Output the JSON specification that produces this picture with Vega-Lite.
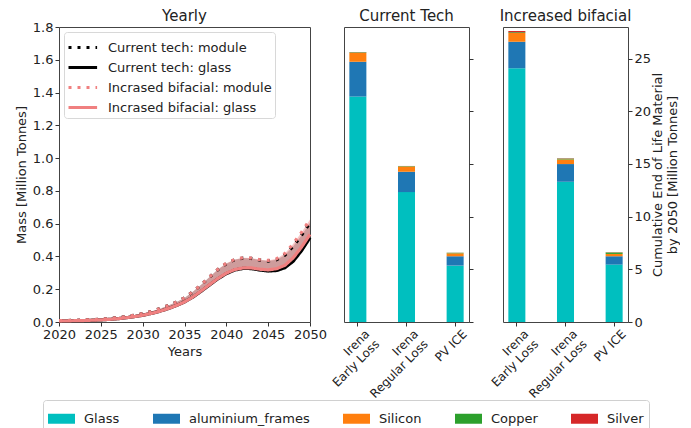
{
  "$schema": "https://vega.github.io/schema/vega-lite/v6.json",
  "background": "white",
  "padding": {"left": 14, "top": 8, "right": 0, "bottom": 0},
  "datasets": {
    "yearly": [
      {"year": 2020, "Current tech: module": 0.008, "Current tech: glass": 0.006, "Incrased bifacial: module": 0.008, "Incrased bifacial: glass": 0.006},
      {"year": 2021, "Current tech: module": 0.009, "Current tech: glass": 0.007, "Incrased bifacial: module": 0.009, "Incrased bifacial: glass": 0.007},
      {"year": 2022, "Current tech: module": 0.010, "Current tech: glass": 0.008, "Incrased bifacial: module": 0.010, "Incrased bifacial: glass": 0.008},
      {"year": 2023, "Current tech: module": 0.012, "Current tech: glass": 0.009, "Incrased bifacial: module": 0.012, "Incrased bifacial: glass": 0.009},
      {"year": 2024, "Current tech: module": 0.014, "Current tech: glass": 0.011, "Incrased bifacial: module": 0.014, "Incrased bifacial: glass": 0.011},
      {"year": 2025, "Current tech: module": 0.017, "Current tech: glass": 0.013, "Incrased bifacial: module": 0.017, "Incrased bifacial: glass": 0.013},
      {"year": 2026, "Current tech: module": 0.021, "Current tech: glass": 0.016, "Incrased bifacial: module": 0.021, "Incrased bifacial: glass": 0.016},
      {"year": 2027, "Current tech: module": 0.026, "Current tech: glass": 0.020, "Incrased bifacial: module": 0.026, "Incrased bifacial: glass": 0.020},
      {"year": 2028, "Current tech: module": 0.033, "Current tech: glass": 0.026, "Incrased bifacial: module": 0.033, "Incrased bifacial: glass": 0.026},
      {"year": 2029, "Current tech: module": 0.041, "Current tech: glass": 0.033, "Incrased bifacial: module": 0.041, "Incrased bifacial: glass": 0.033},
      {"year": 2030, "Current tech: module": 0.051, "Current tech: glass": 0.041, "Incrased bifacial: module": 0.051, "Incrased bifacial: glass": 0.041},
      {"year": 2031, "Current tech: module": 0.064, "Current tech: glass": 0.052, "Incrased bifacial: module": 0.064, "Incrased bifacial: glass": 0.052},
      {"year": 2032, "Current tech: module": 0.080, "Current tech: glass": 0.065, "Incrased bifacial: module": 0.080, "Incrased bifacial: glass": 0.065},
      {"year": 2033, "Current tech: module": 0.099, "Current tech: glass": 0.081, "Incrased bifacial: module": 0.099, "Incrased bifacial: glass": 0.081},
      {"year": 2034, "Current tech: module": 0.121, "Current tech: glass": 0.100, "Incrased bifacial: module": 0.121, "Incrased bifacial: glass": 0.100},
      {"year": 2035, "Current tech: module": 0.147, "Current tech: glass": 0.122, "Incrased bifacial: module": 0.147, "Incrased bifacial: glass": 0.122},
      {"year": 2036, "Current tech: module": 0.184, "Current tech: glass": 0.152, "Incrased bifacial: module": 0.185, "Incrased bifacial: glass": 0.153},
      {"year": 2037, "Current tech: module": 0.227, "Current tech: glass": 0.188, "Incrased bifacial: module": 0.228, "Incrased bifacial: glass": 0.190},
      {"year": 2038, "Current tech: module": 0.274, "Current tech: glass": 0.226, "Incrased bifacial: module": 0.275, "Incrased bifacial: glass": 0.228},
      {"year": 2039, "Current tech: module": 0.320, "Current tech: glass": 0.264, "Incrased bifacial: module": 0.322, "Incrased bifacial: glass": 0.266},
      {"year": 2040, "Current tech: module": 0.356, "Current tech: glass": 0.295, "Incrased bifacial: module": 0.359, "Incrased bifacial: glass": 0.298},
      {"year": 2041, "Current tech: module": 0.380, "Current tech: glass": 0.317, "Incrased bifacial: module": 0.382, "Incrased bifacial: glass": 0.320},
      {"year": 2042, "Current tech: module": 0.390, "Current tech: glass": 0.327, "Incrased bifacial: module": 0.392, "Incrased bifacial: glass": 0.330},
      {"year": 2043, "Current tech: module": 0.388, "Current tech: glass": 0.326, "Incrased bifacial: module": 0.390, "Incrased bifacial: glass": 0.330},
      {"year": 2044, "Current tech: module": 0.378, "Current tech: glass": 0.317, "Incrased bifacial: module": 0.380, "Incrased bifacial: glass": 0.322},
      {"year": 2045, "Current tech: module": 0.372, "Current tech: glass": 0.311, "Incrased bifacial: module": 0.376, "Incrased bifacial: glass": 0.318},
      {"year": 2046, "Current tech: module": 0.380, "Current tech: glass": 0.314, "Incrased bifacial: module": 0.386, "Incrased bifacial: glass": 0.325},
      {"year": 2047, "Current tech: module": 0.408, "Current tech: glass": 0.331, "Incrased bifacial: module": 0.418, "Incrased bifacial: glass": 0.346},
      {"year": 2048, "Current tech: module": 0.462, "Current tech: glass": 0.371, "Incrased bifacial: module": 0.478, "Incrased bifacial: glass": 0.392},
      {"year": 2049, "Current tech: module": 0.530, "Current tech: glass": 0.436, "Incrased bifacial: module": 0.548, "Incrased bifacial: glass": 0.458},
      {"year": 2050, "Current tech: module": 0.605, "Current tech: glass": 0.515, "Incrased bifacial: module": 0.625, "Incrased bifacial: glass": 0.535}
    ],
    "eol": [
      {"scenario": "Current Tech", "method": "Irena Early Loss", "material": "Glass", "mass": 21.4},
      {"scenario": "Current Tech", "method": "Irena Early Loss", "material": "aluminium_frames", "mass": 3.3},
      {"scenario": "Current Tech", "method": "Irena Early Loss", "material": "Silicon", "mass": 0.85},
      {"scenario": "Current Tech", "method": "Irena Early Loss", "material": "Copper", "mass": 0.05},
      {"scenario": "Current Tech", "method": "Irena Early Loss", "material": "Silver", "mass": 0.02},
      {"scenario": "Current Tech", "method": "Irena Regular Loss", "material": "Glass", "mass": 12.33},
      {"scenario": "Current Tech", "method": "Irena Regular Loss", "material": "aluminium_frames", "mass": 1.93},
      {"scenario": "Current Tech", "method": "Irena Regular Loss", "material": "Silicon", "mass": 0.5},
      {"scenario": "Current Tech", "method": "Irena Regular Loss", "material": "Copper", "mass": 0.04},
      {"scenario": "Current Tech", "method": "Irena Regular Loss", "material": "Silver", "mass": 0.01},
      {"scenario": "Current Tech", "method": "PV ICE", "material": "Glass", "mass": 5.35},
      {"scenario": "Current Tech", "method": "PV ICE", "material": "aluminium_frames", "mass": 0.89},
      {"scenario": "Current Tech", "method": "PV ICE", "material": "Silicon", "mass": 0.28},
      {"scenario": "Current Tech", "method": "PV ICE", "material": "Copper", "mass": 0.05},
      {"scenario": "Current Tech", "method": "PV ICE", "material": "Silver", "mass": 0.01},
      {"scenario": "Increased bifacial", "method": "Irena Early Loss", "material": "Glass", "mass": 24.08},
      {"scenario": "Increased bifacial", "method": "Irena Early Loss", "material": "aluminium_frames", "mass": 2.51},
      {"scenario": "Increased bifacial", "method": "Irena Early Loss", "material": "Silicon", "mass": 0.85},
      {"scenario": "Increased bifacial", "method": "Irena Early Loss", "material": "Copper", "mass": 0.05},
      {"scenario": "Increased bifacial", "method": "Irena Early Loss", "material": "Silver", "mass": 0.12},
      {"scenario": "Increased bifacial", "method": "Irena Regular Loss", "material": "Glass", "mass": 13.31},
      {"scenario": "Increased bifacial", "method": "Irena Regular Loss", "material": "aluminium_frames", "mass": 1.68},
      {"scenario": "Increased bifacial", "method": "Irena Regular Loss", "material": "Silicon", "mass": 0.44},
      {"scenario": "Increased bifacial", "method": "Irena Regular Loss", "material": "Copper", "mass": 0.08},
      {"scenario": "Increased bifacial", "method": "Irena Regular Loss", "material": "Silver", "mass": 0.03},
      {"scenario": "Increased bifacial", "method": "PV ICE", "material": "Glass", "mass": 5.45},
      {"scenario": "Increased bifacial", "method": "PV ICE", "material": "aluminium_frames", "mass": 0.79},
      {"scenario": "Increased bifacial", "method": "PV ICE", "material": "Silicon", "mass": 0.22},
      {"scenario": "Increased bifacial", "method": "PV ICE", "material": "Copper", "mass": 0.14},
      {"scenario": "Increased bifacial", "method": "PV ICE", "material": "Silver", "mass": 0.02}
    ]
  },
  "bounds": "flush",
  "spacing": 34,
  "hconcat": [
    {
      "width": 251,
      "height": 295,
      "title": {"text": "Yearly", "dy": 6},
      "data": {"name": "yearly"},
      "layer": [
        {
          "mark": {"type": "area", "color": "black", "opacity": 0.3},
          "encoding": {
            "x": {"field": "year", "type": "quantitative", "scale": {"domain": [2020, 2050], "nice": false, "zero": false}, "axis": {"title": "Years", "values": [2020, 2025, 2030, 2035, 2040, 2045, 2050], "format": "d", "labelFlush": false, "labelOverlap": false}},
            "y": {"field": "Current tech: glass", "type": "quantitative", "scale": {"domain": [0, 1.8], "nice": false}, "axis": {"title": "Mass [Million Tonnes]", "values": [0, 0.2, 0.4, 0.6, 0.8, 1.0, 1.2, 1.4, 1.6, 1.8], "tickCount": 10, "format": ".1f", "labelFlush": false, "labelOverlap": false, "labelSeparation": 0}},
            "y2": {"field": "Current tech: module"}
          }
        },
        {
          "mark": {"type": "area", "color": "#F08080", "opacity": 0.45},
          "encoding": {
            "x": {"field": "year", "type": "quantitative", "axis": {"title": "Years", "values": [2020, 2025, 2030, 2035, 2040, 2045, 2050], "format": "d", "labelFlush": false, "labelOverlap": false}},
            "y": {"field": "Incrased bifacial: glass", "type": "quantitative", "axis": {"title": "Mass [Million Tonnes]", "values": [0, 0.2, 0.4, 0.6, 0.8, 1.0, 1.2, 1.4, 1.6, 1.8], "tickCount": 10, "format": ".1f", "labelFlush": false, "labelOverlap": false, "labelSeparation": 0}},
            "y2": {"field": "Incrased bifacial: module"}
          }
        },
        {
          "transform": [{"fold": ["Current tech: module", "Current tech: glass", "Incrased bifacial: module", "Incrased bifacial: glass"], "as": ["series", "mass"]}],
          "mark": {"type": "line", "strokeWidth": 3.2},
          "encoding": {
            "x": {"field": "year", "type": "quantitative", "axis": {"title": "Years", "values": [2020, 2025, 2030, 2035, 2040, 2045, 2050], "format": "d", "labelFlush": false, "labelOverlap": false}},
            "y": {"field": "mass", "type": "quantitative", "axis": {"title": "Mass [Million Tonnes]", "values": [0, 0.2, 0.4, 0.6, 0.8, 1.0, 1.2, 1.4, 1.6, 1.8], "tickCount": 10, "format": ".1f", "labelFlush": false, "labelOverlap": false, "labelSeparation": 0}},
            "stroke": {
              "field": "series", "type": "nominal",
              "scale": {"domain": ["Current tech: module", "Current tech: glass", "Incrased bifacial: module", "Incrased bifacial: glass"], "range": ["black", "black", "#F08080", "#F08080"]},
              "legend": {"orient": "top-left", "title": null, "offset": 5, "symbolType": "M-1,0L1.6,0", "symbolSize": 484, "symbolStrokeWidth": 3, "labelFontSize": 13, "labelLimit": 300, "labelColor": "#222", "fillColor": "white", "strokeColor": "#d8d8d8", "cornerRadius": 3, "padding": 3, "rowPadding": -6, "labelOffset": 16}
            },
            "strokeDash": {
              "field": "series", "type": "nominal",
              "scale": {"domain": ["Current tech: module", "Current tech: glass", "Incrased bifacial: module", "Incrased bifacial: glass"], "range": [[3, 6], [1, 0], [3, 6], [1, 0]]},
              "legend": {"orient": "top-left", "title": null, "offset": 5, "symbolType": "M-1,0L1.6,0", "symbolSize": 484, "symbolStrokeWidth": 3, "labelFontSize": 13, "labelLimit": 300, "labelColor": "#222", "fillColor": "white", "strokeColor": "#d8d8d8", "cornerRadius": 3, "padding": 3, "rowPadding": -6, "labelOffset": 16}
            }
          }
        }
      ]
    },
    {
      "width": 125,
      "height": 295,
      "title": "Current Tech",
      "data": {"name": "eol"},
      "transform": [
        {"filter": "datum.scenario === 'Current Tech'"},
        {"calculate": "indexof(['Glass', 'aluminium_frames', 'Silicon', 'Copper', 'Silver'], datum.material)", "as": "stackOrder"}
      ],
      "mark": {"type": "bar"},
      "encoding": {
        "x": {"field": "method", "type": "nominal", "sort": ["Irena Early Loss", "Irena Regular Loss", "PV ICE"], "scale": {"paddingInner": 0.65, "paddingOuter": 0.11}, "axis": {"title": null, "labelAngle": -45, "labelAlign": "right", "labelBaseline": "top", "labelFontSize": 12, "labelPadding": 2, "labelOffset": 6, "labelExpr": "indexof(datum.label, 'Irena') == 0 ? ['Irena', replace(datum.label, 'Irena ', '')] : datum.label"}},
        "y": {"field": "mass", "type": "quantitative", "stack": "zero", "scale": {"domain": [0, 28], "nice": false}, "axis": {"orient": "right", "title": null, "labels": false, "values": [0, 5, 10, 15, 20, 25]}},
        "order": {"field": "stackOrder", "type": "quantitative", "sort": "ascending"},
        "color": {
          "field": "material", "type": "nominal",
          "scale": {"domain": ["Glass", "aluminium_frames", "Silicon", "Copper", "Silver"], "range": ["#00BFBF", "#1F77B4", "#FF7F0E", "#2CA02C", "#D62728"]},
          "legend": {"orient": "none", "legendX": -16, "legendY": 373, "direction": "horizontal", "columns": 5, "title": null, "symbolType": "M-1,-0.37L1,-0.37L1,0.37L-1,0.37Z", "symbolSize": 729, "symbolStrokeWidth": 0, "symbolOpacity": 1, "labelFontSize": 13, "labelColor": "#222", "labelOffset": 9, "columnPadding": 33, "padding": 5, "strokeColor": "#d0d0d0", "fillColor": "white", "cornerRadius": 3}
        }
      }
    },
    {
      "width": 125,
      "height": 295,
      "title": "Increased bifacial",
      "data": {"name": "eol"},
      "transform": [
        {"filter": "datum.scenario === 'Increased bifacial'"},
        {"calculate": "indexof(['Glass', 'aluminium_frames', 'Silicon', 'Copper', 'Silver'], datum.material)", "as": "stackOrder"}
      ],
      "mark": {"type": "bar"},
      "encoding": {
        "x": {"field": "method", "type": "nominal", "sort": ["Irena Early Loss", "Irena Regular Loss", "PV ICE"], "scale": {"paddingInner": 0.65, "paddingOuter": 0.11}, "axis": {"title": null, "labelAngle": -45, "labelAlign": "right", "labelBaseline": "top", "labelFontSize": 12, "labelPadding": 2, "labelOffset": 6, "labelExpr": "indexof(datum.label, 'Irena') == 0 ? ['Irena', replace(datum.label, 'Irena ', '')] : datum.label"}},
        "y": {"field": "mass", "type": "quantitative", "stack": "zero", "scale": {"domain": [0, 28], "nice": false}, "axis": {"orient": "right", "title": ["Cumulative End of Life Material", "by 2050 [Million Tonnes]"], "titleAngle": 270, "titleBaseline": "top", "titleAlign": "center", "titleX": 23, "titleY": 147.5, "values": [0, 5, 10, 15, 20, 25]}},
        "order": {"field": "stackOrder", "type": "quantitative", "sort": "ascending"},
        "color": {
          "field": "material", "type": "nominal",
          "scale": {"domain": ["Glass", "aluminium_frames", "Silicon", "Copper", "Silver"], "range": ["#00BFBF", "#1F77B4", "#FF7F0E", "#2CA02C", "#D62728"]},
          "legend": {"orient": "none", "legendX": -16, "legendY": 373, "direction": "horizontal", "columns": 5, "title": null, "symbolType": "M-1,-0.37L1,-0.37L1,0.37L-1,0.37Z", "symbolSize": 729, "symbolStrokeWidth": 0, "symbolOpacity": 1, "labelFontSize": 13, "labelColor": "#222", "labelOffset": 9, "columnPadding": 33, "padding": 5, "strokeColor": "#d0d0d0", "fillColor": "white", "cornerRadius": 3}
        }
      }
    }
  ],
  "resolve": {
    "scale": {"color": "shared", "stroke": "independent", "strokeDash": "independent", "y": "independent", "x": "independent"},
    "legend": {"color": "shared", "stroke": "independent", "strokeDash": "independent"}
  },
  "config": {
    "font": "DejaVu Sans",
    "view": {"stroke": "#444", "strokeWidth": 1},
    "axis": {"grid": false, "domain": false, "labelFontSize": 13, "titleFontSize": 13, "labelColor": "#222", "titleColor": "#222", "tickColor": "#333", "tickSize": 4, "titleFontWeight": "normal", "labelPadding": 2, "titlePadding": 4, "labelOverlap": false},
    "axisY": {"labelOverlap": false},
    "axisQuantitative": {"labelOverlap": false},
    "title": {"fontSize": 15, "fontWeight": "normal", "color": "#222", "offset": 3}
  }
}
